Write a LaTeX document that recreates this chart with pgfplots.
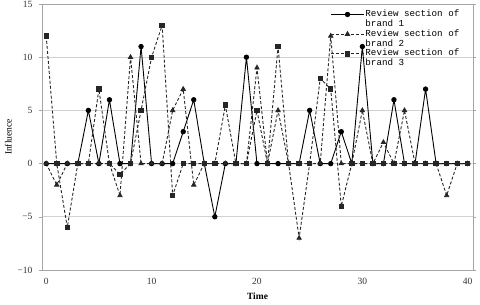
\documentclass[border=0pt]{standalone}
\usepackage{fontspec}
\setmainfont{Liberation Serif}
\newfontfamily\monofont{Liberation Mono}
\usepackage{pgfplots}
\usepackage{pgfplotstable}
\pgfplotsset{compat=1.18}
\pgfplotstableread{
x b1 b2 b3
0 0 0 12
1 0 -2 0
2 0 0 -6
3 0 0 0
4 5 0 0
5 0 0 7
6 6 0 0
7 0 -3 -1
8 0 10 0
9 11 0 5
10 0 0 10
11 0 0 13
12 0 5 -3
13 3 7 0
14 6 -2 0
15 0 0 0
16 -5 0 0
17 0 0 5.5
18 0 0 0
19 10 0 0
20 0 9 5
21 0 0 0
22 0 5 11
23 0 0 0
24 0 -7 0
25 5 0 0
26 0 0 8
27 0 12 7
28 3 0 -4
29 0 0 0
30 11 5 0
31 0 0 0
32 0 2 0
33 6 0 0
34 0 5 0
35 0 0 0
36 7 0 0
37 0 0 0
38 0 -3 0
39 0 0 0
40 0 0 0
}\datatable
\begin{document}
\begin{tikzpicture}
\begin{axis}[
  scale only axis, width=431pt, height=266pt,
  xmin=-0.4, xmax=40.5, ymin=-10, ymax=15,
  xtick={0,10,20,30,40},
  ytick={-10,-5,0,5,10,15},
  yticklabels={−10,−5,0,5,10,15},
  ymajorgrids, grid style={gray!35, line width=0.6pt},
  axis line style={gray!70, line width=0.8pt},
  tick align=outside, major tick length=3pt,
  ytick style={gray!70}, xtick style={draw=none},
  ticklabel style={font=\fontsize{9.5}{10}\selectfont, text=black!80},
  yticklabel style={xshift=-3pt},
  xticklabel style={yshift=-2pt},
  /pgf/number format/assume math mode=true,
  xlabel={\textbf{Time}}, ylabel={Influence},
  label style={font=\fontsize{9.5}{10}\selectfont},
  xlabel style={yshift=-1pt},
  ylabel style={yshift=-1pt},
  legend style={at={(0.978,0.99)}, anchor=north east, draw=none, fill=none,
    font=\monofont\fontsize{9.2}{10}\selectfont, row sep=-0.5pt,
    nodes={align=left, inner sep=1pt}},
  legend image code/.code={\draw[mark repeat=2,mark phase=2] plot coordinates {(0cm,0cm)(0.58cm,0cm)(1.16cm,0cm)};},
  legend image post style={yshift=4.5pt},
  legend cell align=left,
]
\addplot[black, line width=0.9pt, mark=*, mark size=2.2pt] table[x=x, y=b1] {\datatable};
\addlegendentry{Review section of\\brand 1}
\addplot[black!85, densely dashed, line width=0.9pt, mark=triangle*, mark size=2.4pt, mark options={solid}] table[x=x, y=b2] {\datatable};
\addlegendentry{Review section of\\brand 2}
\addplot[black!85, dash pattern=on 3pt off 2pt, line width=0.9pt, mark=square*, mark size=2.2pt, mark options={solid}] table[x=x, y=b3] {\datatable};
\addlegendentry{Review section of\\brand 3}
\end{axis}
\pgfresetboundingbox
\path ([shift={(-42pt,-35pt)}]current axis.south west) rectangle ([shift={(7pt,4pt)}]current axis.north east);
\end{tikzpicture}
\end{document}
